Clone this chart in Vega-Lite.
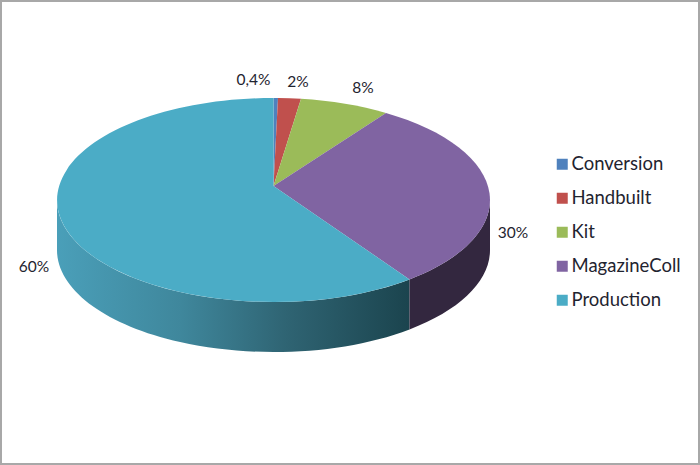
{
  "$schema": "https://vega.github.io/schema/vega-lite/v6.json",
  "width": 700,
  "height": 465,
  "padding": 0,
  "autosize": {"type": "none"},
  "background": "white",
  "config": {"view": {"stroke": "#a8a8a8", "strokeWidth": 4}},
  "data": {"values": [
    {"category": "Conversion", "share": 0.4, "label": "0,4%"},
    {"category": "Handbuilt", "share": 2, "label": "2%"},
    {"category": "Kit", "share": 8, "label": "8%"},
    {"category": "MagazineColl", "share": 30, "label": "30%"},
    {"category": "Production", "share": 60, "label": "60%"}
  ]},
  "layer": [
    {
      "transform": [{"filter": "datum.category === 'Production'"}],
      "mark": {
        "type": "point", "filled": true, "opacity": 1, "size": 4, "xOffset": -76.5, "yOffset": -46.5,
        "shape": "M-216.5,14 L-216.5,64 A216.5,102 0 0 0 136,143.4 L136,93.4 A216.5,102 0 0 1 -216.5,14 Z",
        "fill": {"gradient": "linear", "x1": 0, "y1": 0, "x2": 1, "y2": 0, "stops": [
          {"offset": 0, "color": "#4a9fb9"},
          {"offset": 0.35, "color": "#3f879c"},
          {"offset": 0.65, "color": "#2f6473"},
          {"offset": 1, "color": "#1b444e"}
        ]}
      },
      "encoding": {}
    },
    {
      "transform": [{"filter": "datum.category === 'MagazineColl'"}],
      "mark": {
        "type": "point", "filled": true, "opacity": 1, "size": 4, "xOffset": -76.5, "yOffset": -46.5,
        "shape": "M136,93.4 L136,143.4 A216.5,102 0 0 0 216.5,64 L216.5,14 A216.5,102 0 0 1 136,93.4 Z",
        "fill": "#33273f"
      },
      "encoding": {}
    },
    {
      "mark": {"type": "point", "filled": true, "opacity": 1, "size": 4, "xOffset": -76.5, "yOffset": -46.5},
      "encoding": {
        "color": {
          "field": "category", "type": "nominal",
          "scale": {
            "domain": ["Conversion", "Handbuilt", "Kit", "MagazineColl", "Production"],
            "range": ["#4f81bd", "#c0504d", "#9bbb59", "#8064a2", "#4bacc6"]
          },
          "legend": {
            "title": null, "orient": "none", "legendX": 553, "legendY": 155,
            "symbolType": "square", "symbolSize": 121, "symbolStrokeWidth": 0, "symbolOpacity": 1,
            "labelFont": "Lato", "labelFontSize": 18.5, "labelColor": "#1f2430", "labelOffset": 0,
            "rowPadding": 15
          }
        },
        "shape": {
          "field": "label", "type": "nominal", "legend": null,
          "scale": {
            "domain": ["0,4%", "2%", "8%", "30%", "60%"],
            "range": [
              "M0,0 L0,-88 A216.5,102 0 0 1 4.5,-88 Z",
              "M0,0 L4.5,-88 A216.5,102 0 0 1 27.5,-87.2 Z",
              "M0,0 L27.5,-87.2 A216.5,102 0 0 1 112.5,-73.1 Z",
              "M0,0 L112.5,-73.1 A216.5,102 0 0 1 136,93.4 Z",
              "M0,0 L136,93.4 A216.5,102 0 1 1 0,-88 Z"
            ]
          }
        }
      }
    },
    {
      "mark": {"type": "text", "font": "Lato", "fontSize": 15.5, "color": "#1f2430"},
      "encoding": {
        "x": {"field": "share", "type": "quantitative", "axis": null,
          "scale": {"domain": [0.4, 2, 8, 30, 60], "range": [253.5, 298, 363, 513, 34]}},
        "y": {"field": "share", "type": "quantitative", "axis": null,
          "scale": {"domain": [0.4, 2, 8, 30, 60], "range": [80, 82, 88, 233, 267]}},
        "text": {"field": "label", "type": "nominal"}
      }
    }
  ]
}
